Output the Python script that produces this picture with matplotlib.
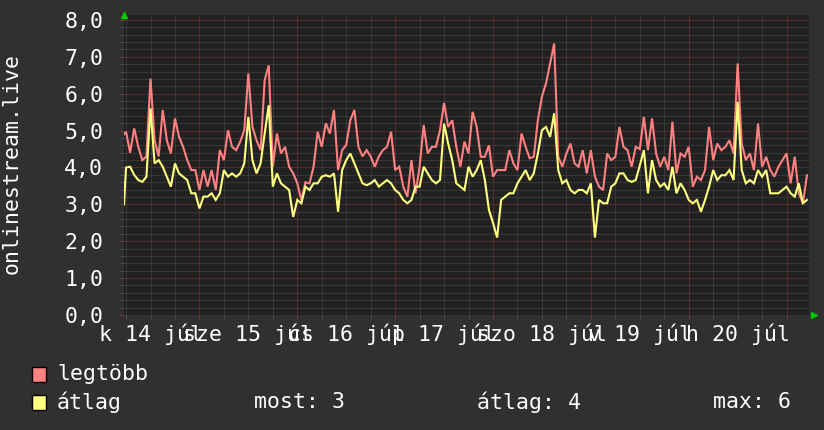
import numpy as np
import matplotlib
matplotlib.use("Agg")
import matplotlib.pyplot as plt
from matplotlib.ticker import MultipleLocator, FixedLocator
from matplotlib.patches import Rectangle

# ---------------- data ----------------
# time in hours since 14 Jul 00:00
hours = [5.5] + list(range(6, 174))

max_vals = [4.9,
    4.97, 4.4, 5.06, 4.56, 4.2, 4.3, 6.41, 4.74, 4.3, 5.56, 4.74, 4.38, 5.33, 4.83,
    4.56, 4.2, 3.93, 3.93, 3.39, 3.93, 3.48, 3.93, 3.39, 4.47, 4.2, 5.01, 4.56, 4.47,
    4.7, 5.01, 6.55, 5.1, 4.74, 4.47, 6.37, 6.77, 4.02, 4.92, 4.38, 4.56, 4.02, 3.84,
    3.57, 3.12, 3.6, 3.57, 4.02, 4.97, 4.56, 5.2, 4.92, 5.56, 3.93, 4.47, 4.61, 5.28,
    5.56, 4.56, 4.3, 4.47, 4.3, 4.02, 4.3, 4.47, 4.56, 4.97, 3.93, 4.02, 3.48, 3.21,
    4.2, 3.3, 4.02, 5.15, 4.38, 4.56, 4.56, 5.01, 5.75, 5.1, 5.28, 4.56, 4.02, 4.7,
    4.38, 5.51, 5.1, 4.29, 4.29, 4.6, 3.75, 3.93, 3.93, 3.93, 4.47, 4.11, 3.93, 4.92,
    4.56, 4.25, 4.29, 5.28, 5.92, 6.28, 6.82, 7.36, 4.29, 4.02, 4.38, 4.65, 4.11, 4.02,
    4.47, 3.84, 4.47, 3.75, 3.48, 3.39, 4.38, 4.2, 4.29, 5.1, 4.56, 4.47, 4.02, 4.56,
    4.5, 5.37, 4.47, 5.33, 4.38, 4.02, 4.29, 3.93, 5.24, 3.84, 4.38, 4.29, 4.56, 3.48,
    3.75, 3.66, 3.93, 5.1, 4.2, 4.65, 4.47, 4.56, 4.74, 4.38, 6.82, 4.65, 4.2, 4.38,
    3.93, 5.19, 4.02, 4.29, 3.93, 3.75, 4.02, 4.2, 4.38, 3.57, 4.29, 3.3, 3.03, 3.79]

avg_vals = [3.0,
    4.0, 4.02, 3.8, 3.66, 3.61, 3.75, 5.6, 4.11, 4.2, 4.02, 3.75, 3.48, 4.11, 3.84,
    3.75, 3.66, 3.3, 3.3, 2.89, 3.21, 3.21, 3.3, 3.12, 3.3, 3.93, 3.75, 3.84, 3.75,
    3.84, 4.11, 5.37, 4.2, 3.84, 4.11, 4.92, 5.69, 3.48, 3.84, 3.57, 3.48, 3.39, 2.66,
    3.12, 3.03, 3.48, 3.39, 3.57, 3.57, 3.75, 3.79, 3.75, 3.84, 2.8, 3.93, 4.2, 4.38,
    4.11, 3.84, 3.57, 3.52, 3.57, 3.66, 3.48, 3.57, 3.66, 3.57, 3.39, 3.3, 3.12, 3.03,
    3.12, 3.48, 3.48, 4.02, 3.84, 3.66, 3.57, 3.66, 5.19, 4.65, 4.2, 3.57, 3.48, 3.39,
    4.02, 3.75, 3.93, 4.2, 3.66, 2.85, 2.5, 2.1, 3.12, 3.21, 3.3, 3.3, 3.57, 3.75,
    3.93, 3.66, 3.84, 4.38, 5.01, 5.1, 4.83, 5.47, 3.93, 3.57, 3.66, 3.39, 3.3, 3.39,
    3.39, 3.3, 3.57, 2.1, 3.12, 3.03, 3.03, 3.48, 3.57, 3.84, 3.84, 3.66, 3.61, 3.66,
    4.05, 4.47, 3.3, 4.2, 3.66, 3.48, 3.57, 3.39, 4.02, 3.3, 3.57, 3.39, 3.12, 3.03,
    3.12, 2.8, 3.12, 3.48, 3.93, 3.66, 3.79, 3.79, 3.93, 3.66, 5.78, 3.93, 3.57, 3.66,
    3.57, 3.93, 3.75, 3.93, 3.3, 3.3, 3.3, 3.39, 3.48, 3.3, 3.21, 3.57, 3.03, 3.12]

day_label_hours = [12, 36, 60, 84, 108, 132, 156]
day_labels = ["k 14 júl", "sze 15 júl", "cs 16 júl", "p 17 júl",
              "szo 18 júl", "v 19 júl", "h 20 júl"]
y_ticks = [0, 1, 2, 3, 4, 5, 6, 7, 8]
y_ticklabels = ["0,0", "1,0", "2,0", "3,0", "4,0", "5,0", "6,0", "7,0", "8,0"]

series_names = ["legtöbb", "átlag"]
series_colors = ["#FF8080", "#FFFF80"]

# ---------------- style ----------------
W, H = 824, 430
FONT = "DejaVu Sans Mono"
FS = 15.5
BG = "#303030"
PLOT_BG = "#212121"
TXT = "#FFFFFF"

plt.rcParams["font.family"] = [FONT, "DejaVu Sans"]

fig = plt.figure(figsize=(W / 100, H / 100), dpi=100, facecolor=BG)

def fx(x):
    return x / W

def fy(y):
    return 1 - y / H

ax_l, ax_r, ax_t, ax_b = 124, 809, 15, 315
ax = fig.add_axes([fx(ax_l), fy(ax_b), (ax_r - ax_l) / W, (ax_b - ax_t) / H])
ax.set_facecolor(PLOT_BG)
for s in ax.spines.values():
    s.set_visible(False)

ax.set_xlim(5.5, 173.5)
ax.set_ylim(0, 8.135)

# grid
ax.xaxis.set_major_locator(MultipleLocator(24))
ax.xaxis.set_minor_locator(MultipleLocator(6))
ax.yaxis.set_major_locator(FixedLocator(y_ticks))
ax.yaxis.set_minor_locator(MultipleLocator(0.2))
ax.set_yticklabels(y_ticklabels)
ax.set_xticklabels([])

dot = (0, (1, 1))
ax.grid(which="minor", color="#4e4e4e", linestyle=dot, linewidth=0.72)
ax.grid(which="major", color="#803838", linestyle=dot, linewidth=0.72)
ax.set_axisbelow(True)

ax.tick_params(axis="both", which="major", length=3, width=0.72, color="#803838",
               labelcolor=TXT, labelsize=FS, direction="out")
ax.tick_params(axis="both", which="minor", length=3, width=0.72, color="#4e4e4e",
               direction="out")
ax.tick_params(axis="y", which="major", pad=12)
for lab in ax.get_yticklabels():
    lab.set_fontfamily(FONT)

# day labels at noon (overlapping as in the original rrdtool output)
sec = ax.secondary_xaxis("bottom")
sec.set_xticks(day_label_hours, day_labels)
sec.tick_params(length=0, pad=6, labelsize=FS, labelcolor=TXT)
for s in sec.spines.values():
    s.set_visible(False)

# data lines
ax.plot(hours, max_vals, color=series_colors[0], linewidth=1.5, solid_joinstyle="miter")
ax.plot(hours, avg_vals, color=series_colors[1], linewidth=1.5, solid_joinstyle="miter")

# arrows
ax.plot([5.5], [8.135], marker="^", color="#00CC00", markersize=5, clip_on=False,
        transform=ax.transData)
arrow_x = 5.5 + (813.5 - ax_l) / (ax_r - ax_l) * (173.5 - 5.5)
ax.plot([arrow_x], [0], marker=">", color="#00CC00", markersize=5, clip_on=False)

# y axis title
fig.text(fx(11.5), fy(164), "onlinestream.live", rotation=90, ha="center", va="center",
         color=TXT, fontsize=FS, fontfamily=FONT)

# legend
rows_y = [374, 402]
for i, (name, col) in enumerate(zip(series_names, series_colors)):
    yc = rows_y[i]
    fig.add_artist(Rectangle((fx(32), fy(yc + 7.5)), 14 / W, 15 / H, transform=fig.transFigure,
                             facecolor=col, edgecolor="#000000", linewidth=1))
    fig.text(fx(57), fy(yc), name, ha="left", va="center", color=TXT, fontsize=FS,
             fontfamily=FONT)

avg_arr = np.array(avg_vals)
stats = [("most", avg_arr[-1], 254), ("átlag", avg_arr.mean(), 477), ("max", avg_arr.max(), 713)]
for label, val, xs in stats:
    fig.text(fx(xs), fy(rows_y[1]), f"{label}: {val:.0f}", ha="left", va="center", color=TXT,
             fontsize=FS, fontfamily=FONT)

fig.savefig("out.png", dpi=100, facecolor=BG)
